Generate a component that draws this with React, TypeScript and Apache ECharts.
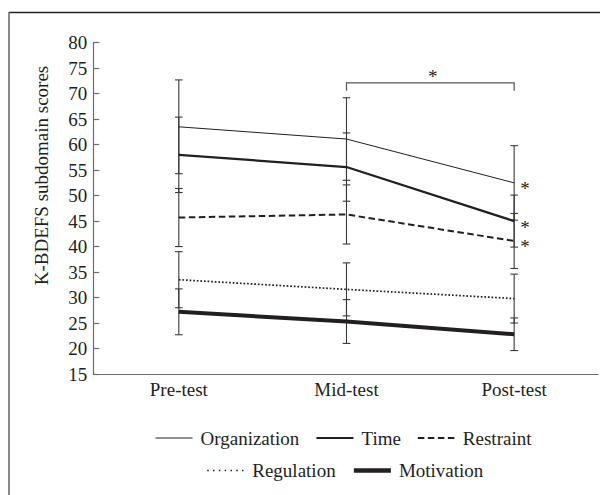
import React, { useEffect, useRef } from "react";
import * as echarts from "echarts";

const categories = ["Pre-test", "Mid-test", "Post-test"];
const seriesNames = ["Organization", "Time", "Restraint", "Regulation", "Motivation"];

const organization = [63.5, 61.1, 52.5];
const organizationSD = [9.2, 8.1, 7.3];
const time = [58.0, 55.6, 45.0];
const timeSD = [7.4, 6.7, 5.1];
const restraint = [45.7, 46.3, 41.1];
const restraintSD = [5.7, 5.8, 5.4];
const regulation = [33.5, 31.6, 29.8];
const regulationSD = [5.5, 5.2, 4.8];
const motivation = [27.2, 25.3, 22.8];
const motivationSD = [4.5, 4.3, 3.2];

const postSignificant = [true, true, true, false, false];
const bracketRange = [1, 2];
const bracketLevel = [72.1];
const yTicks = { min: 15, max: 80, step: 5 };

const FONT = "Liberation Serif";
const INK = "#231f20";

export default function App() {
  const ref = useRef<HTMLDivElement>(null);

  useEffect(() => {
    document.body.style.margin = "0";
    if (!ref.current) return;
    const chart = echarts.init(ref.current, undefined, { renderer: "svg" });

    const means = [organization, time, restraint, regulation, motivation];
    const sds = [organizationSD, timeSD, restraintSD, regulationSD, motivationSD];
    const lineStyles: any[] = [
      { width: 1, type: "solid" },
      { width: 2.2, type: "solid" },
      { width: 2, type: [6.5, 3.5] },
      { width: 1.7, type: [1.7, 1.9] },
      { width: 4, type: "solid" },
    ];
    const legendStyles: any[] = [
      { width: 1, type: "solid" },
      { width: 2.2, type: "solid" },
      { width: 2, type: [6.5, 3.5] },
      { width: 1.5, type: [1.5, 4.3] },
      { width: 4.5, type: "solid" },
    ];

    const errData: number[][] = [];
    means.forEach((m, s) => {
      m.forEach((v, i) => {
        errData.push([i, v - sds[s][i], v + sds[s][i]]);
      });
    });

    const lineSeries = seriesNames.map((name, s) => ({
      name,
      type: "line",
      data: means[s].map((v, i) => [i, v]),
      symbol: "none",
      z: 3,
      lineStyle: { color: INK, ...lineStyles[s], cap: "butt" },
      itemStyle: { color: INK },
      endLabel: postSignificant[s]
        ? {
            show: true,
            formatter: "*",
            distance: 6,
            offset: [0, 6],
            fontSize: 19,
            fontFamily: FONT,
            color: INK,
            textBorderWidth: 0,
          }
        : { show: false },
    }));

    const legendItem = (name: string) => {
      const s = seriesNames.indexOf(name);
      return {
        name,
        lineStyle: { color: INK, width: legendStyles[s].width, type: legendStyles[s].type },
        itemStyle: { opacity: 0 },
      };
    };

    const legendCommon = {
      orient: "horizontal",
      padding: 0,
      itemWidth: 37,
      itemHeight: 14,
      itemGap: 16,
      selectedMode: false,
      textStyle: { fontSize: 19, fontFamily: FONT, color: INK, padding: [0, 0, 0, 3] },
    };

    const option: any = {
      animation: false,
      textStyle: { fontFamily: FONT },
      grid: { left: 93.3, right: 2, top: 42.7, bottom: 121 },
      xAxis: {
        type: "value",
        min: -0.51,
        max: 2.5,
        axisLine: { show: true, onZero: false, lineStyle: { color: "#6d6d6d", width: 1.2 } },
        axisTick: { show: false },
        splitLine: { show: false },
        axisLabel: {
          customValues: [0, 1, 2],
          formatter: (v: number) => categories[Math.round(v)] ?? "",
          margin: 6,
          fontSize: 19,
          fontFamily: FONT,
          color: INK,
        },
      },
      yAxis: {
        type: "value",
        min: yTicks.min,
        max: yTicks.max,
        interval: yTicks.step,
        axisLine: { show: true, onZero: false, lineStyle: { color: "#6d6d6d", width: 1.2 } },
        axisTick: { show: true, inside: true, length: 6, lineStyle: { color: "#6d6d6d", width: 1.2 } },
        splitLine: { show: false },
        axisLabel: { margin: 6, fontSize: 19, fontFamily: FONT, color: INK },
      },
      legend: [
        { ...legendCommon, left: 155, top: 428.5, data: ["Organization", "Time", "Restraint"].map(legendItem) },
        { ...legendCommon, left: 206.5, top: 461, data: ["Regulation", "Motivation"].map(legendItem) },
      ],
      graphic: [
        { type: "line", shape: { x1: 9, y1: 12.5, x2: 600, y2: 12.5 }, style: { stroke: "#222", lineWidth: 1.3 } },
        { type: "line", shape: { x1: 9, y1: 12, x2: 9, y2: 495 }, style: { stroke: "#666", lineWidth: 1.5 } },
        {
          type: "text",
          x: 41,
          y: 175.5,
          rotation: Math.PI / 2,
          style: {
            text: "K-BDEFS subdomain scores",
            fontSize: 19,
            fontFamily: FONT,
            fill: INK,
            align: "center",
            verticalAlign: "middle",
          },
        },
      ],
      series: [
        {
          type: "custom",
          name: "errorbars",
          z: 2,
          data: errData,
          encode: { x: 0, y: [1, 2] },
          renderItem: (params: any, api: any) => {
            const x = api.value(0);
            const a = api.coord([x, api.value(2)]);
            const b = api.coord([x, api.value(1)]);
            const w = 3.8;
            const st = { stroke: "#3a3a3a", lineWidth: 1.1 };
            return {
              type: "group",
              children: [
                { type: "line", shape: { x1: a[0], y1: a[1], x2: b[0], y2: b[1] }, style: st },
                { type: "line", shape: { x1: a[0] - w, y1: a[1], x2: a[0] + w, y2: a[1] }, style: st },
                { type: "line", shape: { x1: b[0] - w, y1: b[1], x2: b[0] + w, y2: b[1] }, style: st },
              ],
            };
          },
        },
        ...lineSeries,
        {
          type: "custom",
          name: "bracket",
          z: 4,
          data: [[bracketRange[0], bracketRange[1], bracketLevel[0]]],
          encode: { x: [0, 1], y: 2 },
          renderItem: (params: any, api: any) => {
            const p0 = api.coord([api.value(0), api.value(2)]);
            const p1 = api.coord([api.value(1), api.value(2)]);
            const leg = 7.7;
            return {
              type: "group",
              children: [
                {
                  type: "polyline",
                  shape: {
                    points: [
                      [p0[0], p0[1] + leg],
                      [p0[0], p0[1]],
                      [p1[0], p1[1]],
                      [p1[0], p1[1] + leg],
                    ],
                  },
                  style: { stroke: "#555", fill: "none", lineWidth: 1.2 },
                },
                {
                  type: "text",
                  x: (p0[0] + p1[0]) / 2 + 2.5,
                  y: p0[1] - 6,
                  style: {
                    text: "*",
                    fontSize: 19,
                    fontFamily: FONT,
                    fill: INK,
                    align: "center",
                    verticalAlign: "middle",
                  },
                },
              ],
            };
          },
        },
      ],
    };

    chart.setOption(option);
    return () => chart.dispose();
  }, []);

  return <div ref={ref} style={{ width: 600, height: 495 }} />;
}
